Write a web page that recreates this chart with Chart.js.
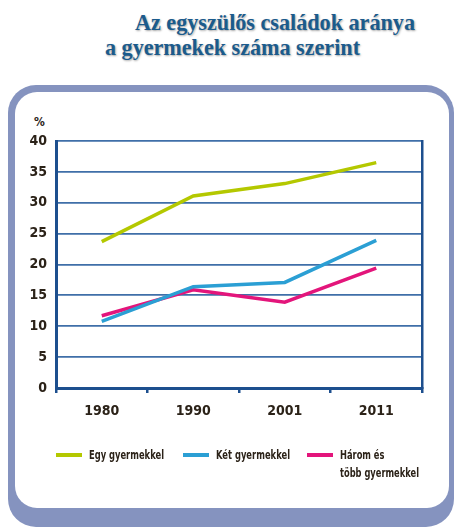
<!DOCTYPE html>
<html>
<head>
<meta charset="utf-8">
<script src="https://cdn.jsdelivr.net/npm/chart.js@4.4.1/dist/chart.umd.min.js"></script>
<style>
  html, body { margin:0; padding:0; background:#fff; }
  body { width:455px; height:527px; position:relative; overflow:hidden; }
  #title { position:absolute; left:0; top:10px; width:455px; font-family:"Liberation Serif","DejaVu Serif",serif; font-weight:bold; color:#1b5b8c; font-size:23px; line-height:25px; text-shadow:1px 1px 2px rgba(0,0,0,0.35); }
  #title div { position:absolute; white-space:nowrap; transform-origin:0 0; }
  #outer { position:absolute; left:8px; top:85px; width:446px; height:442px; background:#8593bf; border-radius:28px; }
  #inner { position:absolute; left:15px; top:92px; width:434px; height:416px; background:#fff; border-radius:22px; }
  #pct { position:absolute; left:34px; top:115px; font-family:"DejaVu Sans",sans-serif; font-stretch:condensed; font-weight:bold; font-size:12px; color:#2b2218; }
  #wrap { position:absolute; left:0; top:0; width:455px; height:527px; }
  .leg { position:absolute; font-family:"DejaVu Sans",sans-serif; font-stretch:condensed; font-weight:bold; font-size:13px; line-height:18px; color:#2b2218; white-space:pre-line; transform-origin:0 0; }
  .sw { position:absolute; height:4px; width:26px; }
</style>
</head>
<body>
<div id="outer"></div>
<div id="inner"></div>
<div id="title"><div id="t1" style="left:135px;top:0px">Az egyszülős családok aránya</div><div id="t2" style="left:105px;top:25px">a gyermekek száma szerint</div></div>
<div id="pct">%</div>
<div id="wrap"><canvas id="c" width="455" height="527"></canvas></div>
<div id="legend"></div>
<script>
const years = ["1980", "1990", "2001", "2011"];
const seriesNames = ["Egy gyermekkel", "Két gyermekkel", "Három és\ntöbb gyermekkel"];
const egyGyermekkel = [23.7, 31.1, 33.1, 36.5];
const ketGyermekkel = [10.8, 16.4, 17.1, 23.9];
const haromVagyTobb = [11.7, 15.9, 13.9, 19.4];
const seriesColors = ["#b4c800", "#2b9fd4", "#e3157b"];
const yTicks = [0, 5, 10, 15, 20, 25, 30, 35, 40];

const tickFont = { family: '"DejaVu Sans",sans-serif', weight: 'bold condensed', size: 14 };
const axisColor = '#1d4f8e';

function fitWidth(id, w) {
  const el = document.getElementById(id);
  const cur = el.getBoundingClientRect().width;
  el.style.transform = 'scaleX(' + (w / cur) + ')';
}
fitWidth('t1', 280);
fitWidth('t2', 255);

const values = [egyGyermekkel, ketGyermekkel, haromVagyTobb];
const datasets = values.map((v, i) => ({
  label: seriesNames[i],
  data: v,
  borderColor: seriesColors[i],
  backgroundColor: seriesColors[i],
  borderWidth: 3.5,
  pointRadius: 0,
  tension: 0,
  fill: false
}));

new Chart(document.getElementById('c'), {
  type: 'line',
  data: { labels: years, datasets: datasets },
  options: {
    responsive: false,
    animation: false,
    layout: { padding: { left: 26, right: 33, top: 141, bottom: 99 } },
    plugins: { legend: { display: false }, tooltip: { enabled: false }, title: { display: false } },
    scales: {
      x: {
        offset: true,
        afterFit: s => { s.height = 40; },
        grid: { drawOnChartArea: false, drawTicks: true, tickLength: 5, color: axisColor, lineWidth: 2.5, offset: true },
        border: { display: true, color: axisColor, width: 3 },
        ticks: { font: tickFont, color: '#2b2218', padding: 10 }
      },
      y: {
        min: 0, max: 40,
        afterFit: s => { s.width = 30; },
        afterBuildTicks: s => { s.ticks = yTicks.map(v => ({ value: v })); },
        grid: { drawTicks: false, color: '#3f6fa8', lineWidth: 1.8 },
        border: { display: true, color: axisColor, width: 3 },
        ticks: { font: tickFont, color: '#2b2218', padding: 9 }
      },
      y2: {
        position: 'right', min: 0, max: 40,
        afterFit: s => { s.width = 0; },
        grid: { display: false },
        border: { display: true, color: axisColor, width: 2.5 },
        ticks: { display: false }
      }
    }
  }
});

const legPos = [56, 183, 307];
const legWidths = [75, 74, 79];
const legend = document.getElementById('legend');
seriesNames.forEach((name, i) => {
  const sw = document.createElement('div');
  sw.className = 'sw';
  sw.style.left = legPos[i] + 'px';
  sw.style.top = '453px';
  sw.style.background = seriesColors[i];
  legend.appendChild(sw);
  const t = document.createElement('div');
  t.className = 'leg';
  t.style.left = (legPos[i] + 33) + 'px';
  t.style.top = '446px';
  t.textContent = name;
  legend.appendChild(t);
  const w = t.getBoundingClientRect().width;
  if (w > legWidths[i]) t.style.transform = 'scaleX(' + (legWidths[i] / w) + ')';
});
</script>
</body>
</html>
